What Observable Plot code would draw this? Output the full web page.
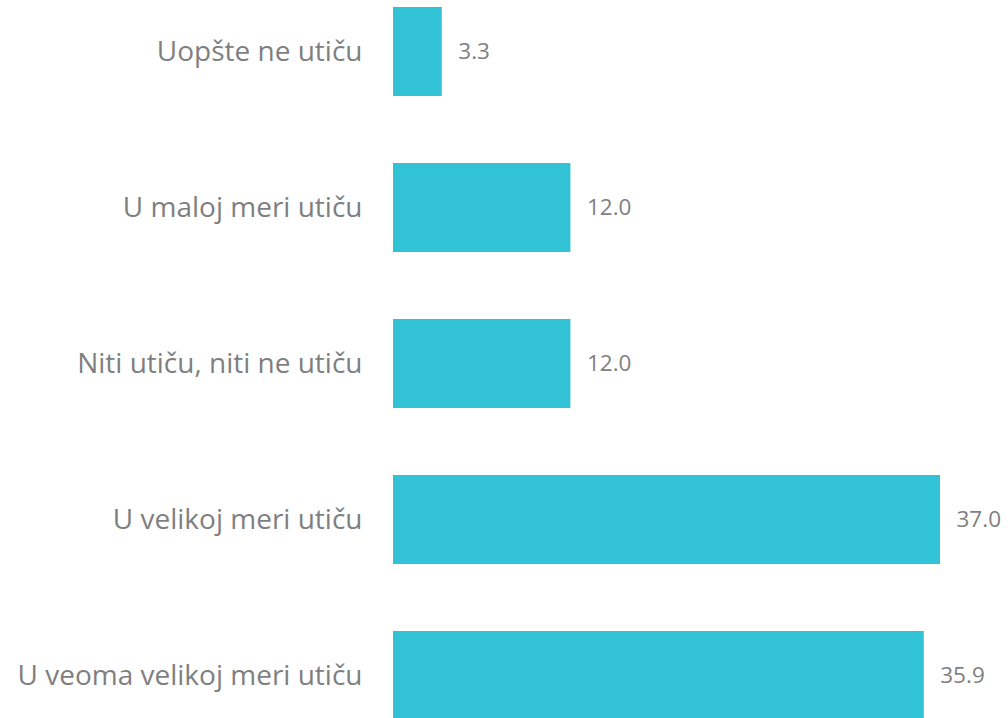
<!DOCTYPE html>
<html>
<head>
<meta charset="utf-8">
<script src="https://cdn.jsdelivr.net/npm/d3@7"></script>
<script src="https://cdn.jsdelivr.net/npm/@observablehq/plot@0.6"></script>
<style>
  html, body { margin: 0; padding: 0; background: #fff; }
  #chart svg { display: block; }
</style>
</head>
<body>
<div id="chart"></div>
<script>
const categories = [
  "Uopšte ne utiču",
  "U maloj meri utiču",
  "Niti utiču, niti ne utiču",
  "U velikoj meri utiču",
  "U veoma velikoj meri utiču"
];
const values = [3.3, 12.0, 12.0, 37.0, 35.9];

const data = categories.map((c, i) => ({category: c, value: values[i]}));

const chart = Plot.plot({
  width: 1008,
  height: 718,
  marginLeft: 393,
  marginRight: 0,
  marginTop: 7,
  marginBottom: 0,
  style: {fontFamily: "'Open Sans', sans-serif", background: "#fff"},
  x: {domain: [0, 37], range: [393, 940], axis: null},
  y: {domain: categories, range: [7, 720], paddingInner: 0.4295, paddingOuter: 0, label: null},
  marks: [
    Plot.barX(data, {x: "value", y: "category", fill: "#31C2D6"}),
    Plot.text(data, {
      x: "value", y: "category",
      text: d => d.value.toFixed(1),
      textAnchor: "start", dx: 16,
      fill: "#7f7f7f", fontSize: 22.5
    }),
    Plot.axisY({tickSize: 0, tickPadding: 31, fontSize: 28, color: "#7f7f7f", label: null})
  ]
});
document.getElementById("chart").appendChild(chart);
</script>
</body>
</html>
